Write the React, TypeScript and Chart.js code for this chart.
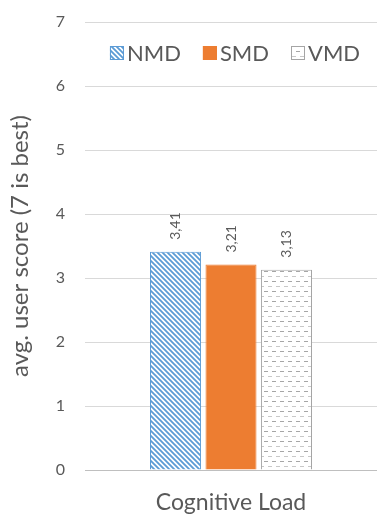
import { useEffect, useRef } from 'react';
import { Chart, registerables } from 'chart.js';

Chart.register(...registerables);

const categories = ['Cognitive Load'];
const seriesNames = ['NMD', 'SMD', 'VMD'];
const nmdValues = [3.41];
const smdValues = [3.21];
const vmdValues = [3.13];
const yTickValues = [0, 1, 2, 3, 4, 5, 6, 7];

const FONT = 'Lato, "Open Sans", sans-serif';
const TEXT = '#595959';

function stripePattern(): CanvasPattern | string {
  const c = document.createElement('canvas');
  const p = 5;
  c.width = p;
  c.height = p;
  const g = c.getContext('2d');
  if (!g) return '#5b9bd5';
  g.fillStyle = '#ffffff';
  g.fillRect(0, 0, p, p);
  g.strokeStyle = '#5b9bd5';
  g.lineWidth = 1.8;
  g.beginPath();
  g.moveTo(-1, -1);
  g.lineTo(p + 1, p + 1);
  g.moveTo(-1, p - 1);
  g.lineTo(1, p + 1);
  g.moveTo(p - 1, -1);
  g.lineTo(p + 1, 1);
  g.stroke();
  return g.createPattern(c, 'repeat') || '#5b9bd5';
}

function dashPattern(): CanvasPattern | string {
  const c = document.createElement('canvas');
  c.width = 8;
  c.height = 10;
  const g = c.getContext('2d');
  if (!g) return '#ffffff';
  g.fillStyle = '#ffffff';
  g.fillRect(0, 0, 8, 10);
  g.fillStyle = '#a6a6a6';
  g.fillRect(0, 1, 4, 1);
  g.fillStyle = '#c8c8c8';
  g.fillRect(4, 6, 4, 1);
  return g.createPattern(c, 'repeat') || '#ffffff';
}

export default function App() {
  const ref = useRef<HTMLCanvasElement | null>(null);

  useEffect(() => {
    document.body.style.margin = '0';
    const canvas = ref.current;
    if (!canvas) return;
    const stripes = stripePattern();
    const dashes = dashPattern();
    const fills = [stripes, '#ed7d31', dashes];
    const borders = ['#5b9bd5', '#ed7d31', '#a5a5a5'];
    const values = [nmdValues, smdValues, vmdValues];

    const labelPlugin = {
      id: 'valueLabels',
      afterDatasetsDraw(chart: any) {
        const ctx = chart.ctx;
        ctx.save();
        ctx.font = `14px ${FONT}`;
        ctx.fillStyle = TEXT;
        ctx.textAlign = 'left';
        ctx.textBaseline = 'middle';
        chart.data.datasets.forEach((ds: any, i: number) => {
          const meta = chart.getDatasetMeta(i);
          meta.data.forEach((el: any, j: number) => {
            const v = ds.data[j] as number;
            const txt = v.toFixed(2).replace('.', ',');
            ctx.save();
            ctx.translate(el.x, el.y - 12);
            ctx.rotate(-Math.PI / 2);
            ctx.fillText(txt, 0, 0);
            ctx.restore();
          });
        });
        ctx.restore();
      },
    };

    const legendPlugin = {
      id: 'insideLegend',
      afterDraw(chart: any) {
        const ctx = chart.ctx;
        const area = chart.chartArea;
        ctx.save();
        ctx.font = `22px ${FONT}`;
        const box = 14;
        const gapText = 3;
        const gapItem = 22;
        const widths = seriesNames.map((n) => ctx.measureText(n).width);
        const total =
          widths.reduce((a: number, b: number) => a + b, 0) +
          seriesNames.length * (box + gapText) +
          (seriesNames.length - 1) * gapItem;
        let x = (area.left + area.right) / 2 - total / 2 + 4;
        const cy = area.top + 31;
        seriesNames.forEach((n, i) => {
          ctx.fillStyle = fills[i] as any;
          ctx.fillRect(x, cy - box / 2, box, box);
          ctx.strokeStyle = borders[i];
          ctx.lineWidth = 1;
          ctx.strokeRect(x + 0.5, cy - box / 2 + 0.5, box - 1, box - 1);
          x += box + gapText;
          ctx.fillStyle = TEXT;
          ctx.textAlign = 'left';
          ctx.textBaseline = 'middle';
          ctx.fillText(n, x, cy + 1);
          x += widths[i] + gapItem;
        });
        ctx.restore();
      },
    };

    const chart = new Chart(canvas, {
      type: 'bar',
      data: {
        labels: categories,
        datasets: seriesNames.map((name, i) => ({
          label: name,
          data: values[i],
          backgroundColor: fills[i] as any,
          borderColor: borders[i],
          borderWidth: 1,
          categoryPercentage: 0.57,
          barPercentage: 0.92,
        })),
      },
      options: {
        animation: false,
        responsive: false,
        maintainAspectRatio: false,
        layout: { padding: { top: 22, right: 0, bottom: 0, left: 0 } },
        plugins: {
          legend: { display: false },
          tooltip: { enabled: false },
        },
        scales: {
          x: {
            afterFit(scale: any) {
              scale.height = 44;
            },
            grid: { display: false, drawTicks: false },
            border: { display: true, color: '#bfbfbf', width: 1 },
            ticks: {
              color: TEXT,
              font: { family: FONT, size: 23 },
              padding: 19,
            },
          },
          y: {
            min: 0,
            max: 7,
            afterBuildTicks(scale: any) {
              scale.ticks = yTickValues.map((v) => ({ value: v }));
            },
            afterFit(scale: any) {
              scale.width = 85;
            },
            grid: {
              color: (c: any) => (c.tick && c.tick.value === 0 ? '#bfbfbf' : '#d9d9d9'),
              drawTicks: true,
              tickLength: 17,
              tickColor: 'rgba(0,0,0,0)',
            },
            border: { display: false },
            ticks: {
              color: TEXT,
              font: { family: FONT, size: 16 },
              padding: 3,
            },
            title: {
              display: true,
              text: 'avg. user score (7 is best)',
              color: TEXT,
              font: { family: FONT, size: 24 },
              padding: { top: 6, bottom: 0 },
            },
          },
        },
      },
      plugins: [labelPlugin, legendPlugin],
    });
    return () => chart.destroy();
  }, []);

  return (
    <div style={{ width: 377, height: 514 }}>
      <canvas ref={ref} width={377} height={514} style={{ display: 'block' }} />
    </div>
  );
}
